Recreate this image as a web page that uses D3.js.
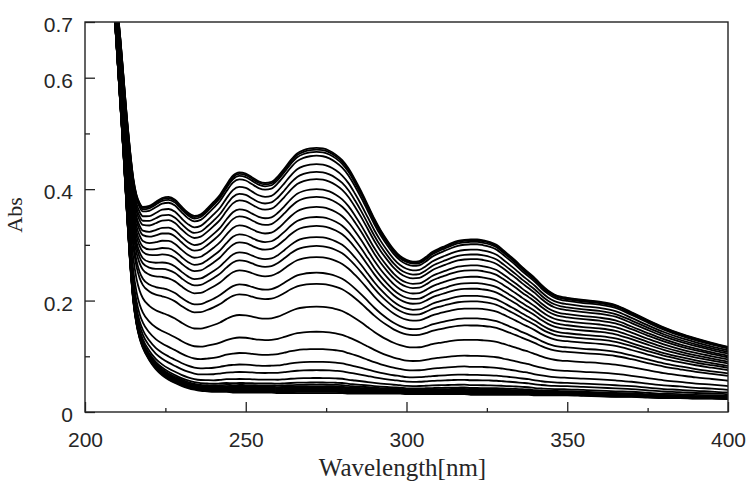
<!DOCTYPE html>
<html>
<head>
<meta charset="utf-8">
<script src="https://cdn.jsdelivr.net/npm/d3@7/dist/d3.min.js"></script>
<style>
body{margin:0;background:#fff;}
.canvas text{font-family:"Liberation Sans",Arial,sans-serif;fill:#262626;}
.canvas .title{font-family:"Liberation Serif","Times New Roman",serif;}
</style>
</head>
<body>
<div class="canvas" id="canvas" style="width:747px;height:483px;"></div>
<script>
// wavelength grid (nm)
var wavelengths = [
  208,209,210,211,212,213,214,215,216,217,218,
  220,222,224,226,228,230,232,234,236,238,
  240,242,244,246,248,250,252,254,256,258,
  260,262,264,266,268,270,272,274,276,278,
  280,282,284,286,288,290,292,294,296,298,
  300,302,304,306,308,310,312,314,316,318,
  320,322,324,326,328,330,332,334,336,338,
  340,342,344,346,348,350,
  355,360,365,370,375,380,385,390,395,400
];
// uppermost trace (Abs)
var topSpectrum = [
  0.86,0.80,0.73,0.67,0.60,0.53,0.47,0.42,0.39,0.375,0.368,
  0.370,0.377,0.384,0.386,0.381,0.369,0.358,0.352,0.355,0.365,
  0.377,0.390,0.408,0.424,0.430,0.428,0.421,0.414,0.411,0.413,
  0.423,0.437,0.452,0.464,0.470,0.473,0.474,0.473,0.469,0.462,
  0.452,0.437,0.417,0.395,0.371,0.347,0.326,0.308,0.292,0.280,
  0.273,0.270,0.271,0.278,0.287,0.293,0.298,0.303,0.307,0.309,
  0.310,0.310,0.308,0.305,0.300,0.291,0.281,0.271,0.260,0.250,
  0.240,0.228,0.218,0.211,0.207,0.205,
  0.201,0.198,0.192,0.179,0.165,0.152,0.141,0.132,0.124,0.117
];
// lowest trace (Abs)
var baseSpectrum = [
  0.82,0.73,0.64,0.55,0.46,0.36,0.27,0.20,0.158,0.132,0.115,
  0.093,0.077,0.066,0.058,0.052,0.047,0.043,0.040,0.038,0.037,
  0.036,0.036,0.036,0.035,0.035,0.035,0.035,0.035,0.035,0.035,
  0.034,0.034,0.034,0.034,0.034,0.034,0.034,0.034,0.034,0.034,
  0.034,0.033,0.033,0.033,0.033,0.033,0.033,0.033,0.033,0.033,
  0.032,0.032,0.032,0.032,0.032,0.032,0.032,0.032,0.032,0.032,
  0.031,0.031,0.031,0.031,0.031,0.031,0.031,0.031,0.031,0.031,
  0.030,0.030,0.030,0.030,0.030,0.030,
  0.029,0.028,0.027,0.027,0.026,0.025,0.025,0.024,0.024,0.023
];
// Abs of every trace at 272 nm, read top to bottom
var peak272 = [
  0.474,0.471,0.467,0.460,0.445,0.431,0.418,0.400,0.386,0.368,
  0.350,0.334,0.314,0.298,0.278,0.250,0.230,0.189,0.144,0.113,
  0.090,0.075,0.061,0.053,0.049,0.046,0.044,0.042,0.040,0.038,
  0.036,0.034
];
var xTicks = [200,250,300,350,400];
var xMinorTicks = [225,275,325,375];
var yTicks = [0,0.2,0.4,0.6,0.7];
var yMinorTicks = [0.1,0.3,0.5];

var m = {t:22,r:19,b:71,l:85};
var outerWidth = 747, outerHeight = 483;
var w = outerWidth - m.l - m.r,
    h = outerHeight - m.t - m.b;

var svg = d3.select('.canvas')
    .append('svg')
    .attr('width',outerWidth)
    .attr('height',outerHeight);
var plot = svg.append('g')
    .attr('transform','translate(' + m.l + ',' + m.t + ')');

//Scale
var scaleX = d3.scaleLinear().domain([200,400]).range([0,w]);
var scaleY = d3.scaleLinear().domain([0,0.7]).range([h,0]);

plot.append('clipPath').attr('id','clip')
    .append('rect').attr('width',w).attr('height',h);

//build each trace from the two end spectra and its level at 272 nm
var i272 = wavelengths.indexOf(272);
var traces = peak272.map(function(p){
    var f = (p - baseSpectrum[i272]) / (topSpectrum[i272] - baseSpectrum[i272]);
    return wavelengths.map(function(wl,i){
        return {wl:wl, abs: baseSpectrum[i] + f*(topSpectrum[i] - baseSpectrum[i])};
    });
});

var lineGenerator = d3.line()
    .x(function(d){return scaleX(d.wl)})
    .y(function(d){return scaleY(d.abs)})
    .curve(d3.curveMonotoneX);

plot.append('g').attr('clip-path','url(#clip)')
    .selectAll('.trace')
    .data(traces)
    .enter()
    .append('path')
    .attr('class','trace')
    .attr('d',lineGenerator)
    .style('fill','none')
    .style('stroke','#000')
    .style('stroke-width','1.8px');

//Axis
var axisX = d3.axisBottom().scale(scaleX)
    .tickValues(xTicks).tickSize(-10).tickPadding(20)
    .tickFormat(d3.format('d'));
var axisXMinor = d3.axisBottom().scale(scaleX)
    .tickValues(xMinorTicks).tickSize(-4).tickFormat('');
var axisY = d3.axisLeft().scale(scaleY)
    .tickValues(yTicks).tickSize(-10).tickPadding(12)
    .tickFormat(function(d){return d === 0 ? '0' : d.toFixed(1)});
var axisYMinor = d3.axisLeft().scale(scaleY)
    .tickValues(yMinorTicks).tickSize(-5).tickFormat('');

[axisX, axisXMinor].forEach(function(ax){
    plot.append('g').attr('class','axis axis-x')
        .attr('transform','translate(0,'+h+')')
        .call(ax);
});
[axisY, axisYMinor].forEach(function(ax){
    plot.append('g').attr('class','axis axis-y')
        .call(ax);
});
plot.selectAll('.axis .domain').remove();
plot.selectAll('.axis line').style('stroke','#222').style('stroke-width','1.3px');
plot.selectAll('.axis text').style('font-size','21px').style('fill','#262626');
plot.selectAll('.axis-y text').attr('dy','0.45em');

//Frame
plot.append('rect')
    .attr('width',w).attr('height',h)
    .style('fill','none')
    .style('stroke','#222')
    .style('stroke-width','1.4px');

//Titles
plot.append('text').attr('class','title')
    .attr('transform','translate(-63,' + (h/2 - 2) + ') rotate(-90)')
    .attr('text-anchor','middle')
    .style('font-size','22px')
    .text('Abs');
plot.append('text').attr('class','title')
    .attr('x',w/2 - 4).attr('y',h + 64)
    .attr('text-anchor','middle')
    .style('font-size','25px')
    .text('Wavelength[nm]');
</script>
</body>
</html>
